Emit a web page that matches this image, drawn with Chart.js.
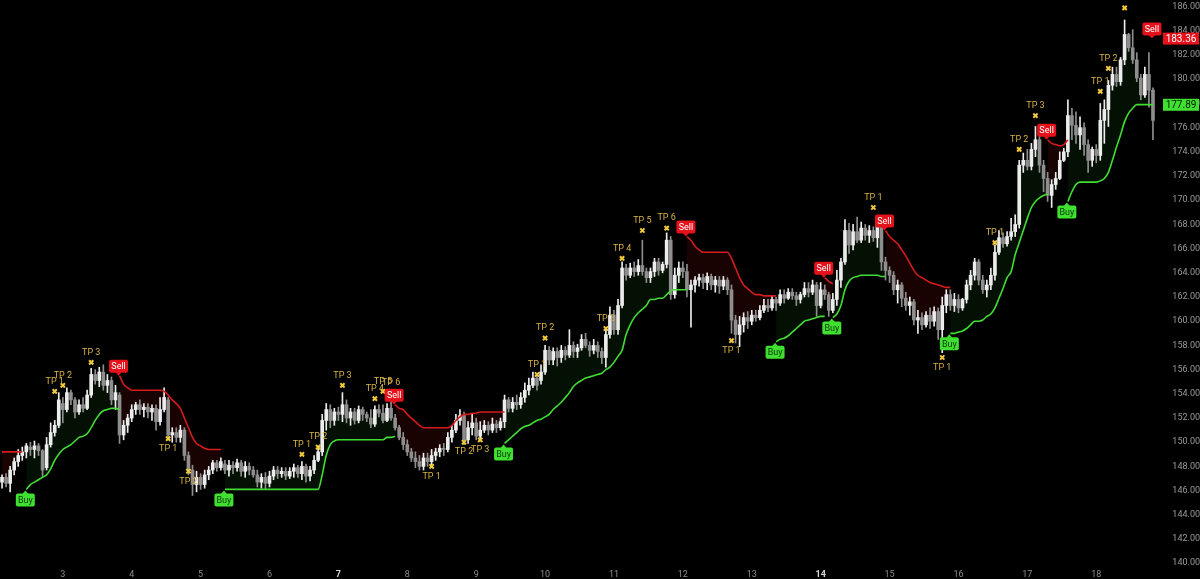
<!DOCTYPE html>
<html>
<head>
<meta charset="utf-8">
<script src="https://cdn.jsdelivr.net/npm/chart.js@4.4.1/dist/chart.umd.min.js"></script>
<style>
  html, body { margin: 0; padding: 0; background: #000; }
  #wrap { width: 1200px; height: 579px; }
</style>
</head>
<body>
<div id="wrap"><canvas id="priceChart"></canvas></div>
<script>
// OHLC per bar (285 bars, 17 bars per day)
const openPrices = [
  146.7,147.1,146.6,147.7,148.4,148.9,149.2,149.6,149.4,149.7,
  149.3,147.9,149.8,150.8,151.4,153.2,152.7,154.1,153.5,152.5,
  153.1,152.8,153.9,155.6,155.1,155.8,154.7,155.1,153.5,153.9,
  150.6,151.4,152.0,152.7,153.1,152.7,152.9,152.5,152.8,151.7,
  152.7,153.5,150.6,150.8,150.4,151.0,148.9,147.7,146.5,147.1,
  146.5,147.3,147.7,148.3,147.9,148.2,147.7,148.1,147.9,148.3,
  147.6,148.0,147.7,147.3,146.7,147.1,146.6,147.2,147.7,147.4,
  147.6,147.2,147.6,147.9,147.4,148.0,147.2,147.7,148.5,149.2,
  151.8,152.7,151.8,152.5,152.3,153.1,152.0,152.5,151.8,152.7,
  152.3,152.0,151.5,152.7,152.4,151.8,152.8,152.0,151.2,150.4,
  149.8,149.2,148.7,148.4,148.0,148.7,148.4,148.9,149.2,149.5,
  149.4,150.4,151.0,151.8,152.2,150.2,151.2,151.6,150.5,151.0,
  151.4,151.0,151.5,151.2,151.7,153.5,152.8,153.3,153.1,153.7,
  154.3,154.7,155.3,155.1,155.8,157.6,156.8,157.5,157.0,157.6,
  157.2,158.0,157.5,157.8,158.5,158.0,157.6,158.0,157.5,157.0,
  158.9,160.5,159.3,161.3,164.4,163.8,164.4,164.1,164.6,164.1,
  163.6,164.1,164.9,164.2,164.7,166.7,162.2,163.8,164.4,164.1,
  162.6,163.0,163.4,163.6,163.2,163.7,163.0,163.4,162.9,163.4,
  162.6,160.1,158.9,159.7,160.3,160.0,160.5,160.3,160.9,161.3,
  161.1,161.8,161.5,162.2,161.9,162.4,162.1,161.8,162.2,162.7,
  162.4,163.0,161.3,162.6,162.2,160.9,161.8,163.4,164.9,167.5,
  166.3,167.4,166.7,167.7,167.1,167.5,166.9,168.2,164.9,164.2,
  163.8,162.6,163.0,161.9,161.3,161.6,160.1,160.3,159.7,160.5,
  160.0,160.8,159.3,161.3,162.2,161.3,161.8,161.1,161.8,163.0,
  163.8,164.9,163.4,162.6,163.0,163.8,165.7,166.9,166.4,167.0,
  167.4,168.0,172.9,173.3,172.8,174.2,175.0,172.9,171.8,170.4,
  171.3,171.8,173.3,174.0,177.0,176.2,175.4,176.0,174.6,173.3,
  174.2,173.7,176.6,177.5,179.5,180.4,179.8,181.6,183.7,182.6,
  181.6,180.1,178.7,180.4,179.1
];
const highPrices = [
  147.3,147.4,148.0,148.7,149.4,149.6,149.9,150.0,150.1,149.9,
  149.4,150.4,151.6,151.8,154.1,153.7,154.5,154.3,153.7,153.5,
  153.7,154.3,156.1,156.0,156.2,156.4,155.6,155.4,154.7,154.1,
  151.8,152.3,153.1,153.3,153.5,153.2,153.2,153.1,153.1,153.7,
  154.5,153.7,151.2,151.2,151.4,151.2,149.2,148.1,147.6,147.4,
  147.7,148.0,148.5,148.5,148.7,148.5,148.5,148.4,148.6,148.5,
  148.4,148.3,148.0,147.7,147.4,147.5,147.6,148.0,148.0,147.9,
  147.9,147.9,148.2,148.1,148.4,148.2,148.0,148.9,149.5,152.3,
  153.2,153.1,152.8,152.9,154.1,153.5,152.8,152.8,153.0,152.9,
  152.5,152.7,153.0,153.1,153.1,153.2,153.5,152.3,151.4,150.8,
  150.2,149.5,149.2,148.9,149.1,149.1,149.4,149.5,149.8,149.9,
  150.8,151.4,152.3,152.7,152.5,151.7,152.3,152.0,151.7,151.8,
  151.7,152.0,151.8,152.0,153.9,153.7,153.7,153.9,154.1,154.9,
  155.3,155.8,155.6,156.4,158.0,157.9,157.8,157.8,158.0,157.9,
  159.3,158.3,158.1,158.9,159.0,158.3,158.5,158.3,157.8,159.3,
  161.2,160.9,161.8,164.9,164.7,164.8,164.9,165.1,166.7,164.4,
  164.4,165.2,165.2,164.9,167.3,167.0,164.4,164.9,164.9,164.7,
  163.4,163.7,163.9,163.9,164.0,163.9,163.7,163.7,163.7,163.6,
  163.0,160.5,160.4,160.7,160.8,160.9,160.9,161.3,161.8,161.8,
  162.1,162.0,162.6,162.6,162.7,162.7,162.4,162.4,163.2,163.2,
  163.4,163.2,163.2,163.0,162.4,162.3,164.2,165.2,168.4,168.1,
  168.0,168.6,168.2,168.0,167.9,167.8,168.6,168.4,165.3,164.5,
  164.1,163.4,163.2,162.4,162.0,161.8,160.9,160.7,160.8,161.1,
  161.2,161.1,162.0,162.6,162.6,162.3,162.2,161.9,163.4,164.2,
  165.2,165.1,163.8,163.4,164.4,166.3,167.5,167.3,167.4,168.5,
  168.8,173.3,173.9,174.2,174.7,176.1,175.4,173.3,172.3,171.7,
  172.3,174.0,174.3,178.3,177.6,177.3,176.9,176.4,175.0,174.4,
  174.6,178.0,178.3,179.9,181.0,181.0,181.8,184.9,183.8,184.1,
  182.2,180.4,181.0,182.2,179.3
];
const lowPrices = [
  146.2,146.3,145.9,147.3,148.0,148.5,148.7,148.9,148.7,148.9,
  147.1,147.7,149.6,150.5,151.2,151.6,152.5,153.1,152.0,152.3,
  152.5,152.7,153.7,154.8,154.6,154.3,154.1,153.1,152.7,149.9,
  150.2,150.8,151.7,152.3,152.3,152.1,152.0,151.8,151.0,151.4,
  152.5,150.2,150.0,150.0,150.0,148.5,147.3,145.6,145.9,146.1,
  146.2,146.9,147.4,147.6,147.7,147.4,147.2,147.4,147.6,147.2,
  147.1,147.3,147.1,146.3,146.2,146.1,146.3,146.9,147.0,147.1,
  146.9,147.0,147.1,147.1,146.9,146.7,146.8,147.4,148.4,148.9,
  151.0,151.2,151.4,151.8,151.7,151.6,151.4,151.5,151.6,151.8,
  151.7,151.2,151.3,152.1,151.6,151.7,151.8,151.0,150.2,149.4,
  148.9,148.4,147.9,147.7,147.7,148.0,148.0,148.5,148.8,148.9,
  149.2,150.0,150.8,151.4,149.8,149.9,150.6,150.2,150.2,150.8,
  150.6,150.8,150.8,151.0,151.2,152.5,152.5,152.7,152.8,153.3,
  153.9,154.5,154.3,154.8,155.6,156.4,156.4,156.3,156.6,156.8,
  157.0,157.0,157.0,157.6,157.8,157.1,157.3,157.0,156.5,156.2,
  158.6,158.9,158.9,161.1,163.4,163.6,163.7,163.8,163.8,163.2,
  163.2,163.7,163.8,164.0,164.4,161.8,161.9,163.2,163.6,162.0,
  159.5,162.4,162.9,162.7,162.6,162.6,162.4,162.3,162.6,162.2,
  159.0,158.2,157.9,159.1,159.4,159.7,160.0,160.1,160.7,160.8,
  160.9,160.9,161.3,161.5,161.8,161.8,161.3,161.5,162.0,162.0,
  162.2,160.4,161.1,161.8,160.4,160.7,161.3,162.8,164.7,165.6,
  165.9,166.5,166.5,166.7,166.5,166.6,166.1,164.2,163.4,163.2,
  162.2,161.5,161.2,160.9,160.5,159.7,159.0,159.3,159.5,159.4,
  159.6,158.5,157.4,160.7,160.9,160.8,160.7,160.9,161.5,162.6,
  163.4,163.0,162.3,162.0,162.6,163.4,165.5,166.1,166.2,166.7,
  167.0,167.7,172.3,172.5,172.5,173.6,172.3,170.7,169.9,169.4,
  170.9,171.7,173.2,173.6,175.0,174.7,174.2,173.7,172.3,172.8,
  173.1,173.3,174.7,176.1,179.1,179.4,179.5,181.2,182.3,181.3,
  179.8,178.3,178.5,177.7,175.0
];
const closePrices = [
  147.1,146.6,147.7,148.4,148.9,149.2,149.7,149.4,149.7,149.3,
  147.7,149.8,150.8,151.4,153.5,152.7,154.1,153.5,152.5,153.1,
  152.8,153.9,155.6,155.1,155.8,154.7,155.1,153.5,154.1,150.6,
  151.4,152.0,152.7,153.1,152.7,152.9,152.5,152.8,151.7,152.7,
  153.7,150.6,150.8,150.4,151.0,148.9,147.7,146.5,147.1,146.5,
  147.3,147.7,148.3,147.9,148.4,147.7,148.1,147.9,148.3,147.6,
  148.0,147.7,147.3,146.7,147.1,146.6,147.2,147.7,147.4,147.6,
  147.2,147.6,147.9,147.4,148.0,147.2,147.7,148.5,149.2,151.8,
  152.7,151.8,152.5,152.3,153.1,152.0,152.5,151.8,152.7,152.3,
  152.0,151.5,152.7,152.4,151.8,152.8,152.0,151.2,150.4,149.8,
  149.2,148.7,148.4,148.0,148.7,148.4,148.9,149.2,149.5,149.4,
  150.4,151.0,151.8,152.2,150.2,151.2,151.6,150.5,151.0,151.4,
  151.0,151.5,151.2,151.7,153.5,152.8,153.3,153.1,153.7,154.3,
  154.7,155.3,154.7,155.8,157.6,156.8,157.5,157.0,157.6,157.2,
  158.0,157.5,157.8,158.5,158.0,157.6,158.0,157.5,157.0,158.9,
  160.5,159.3,161.3,164.4,163.8,164.4,164.1,164.6,164.1,163.6,
  164.1,164.9,164.2,164.7,166.7,162.2,163.8,164.4,164.1,162.6,
  163.0,163.4,163.6,163.2,163.7,163.0,163.4,162.9,163.4,162.6,
  160.1,158.9,159.7,160.3,160.0,160.5,160.3,160.9,161.3,161.1,
  161.8,161.5,162.2,161.9,162.4,162.1,161.8,162.2,162.7,162.4,
  163.0,161.3,162.6,162.2,160.9,161.8,163.4,164.9,167.5,166.3,
  167.4,166.7,167.7,167.1,167.5,166.9,168.2,164.9,164.2,163.8,
  162.6,163.0,161.9,161.3,161.6,160.1,160.3,159.7,160.5,160.0,
  160.8,159.3,161.3,162.2,161.3,161.8,161.1,161.8,163.0,163.8,
  164.9,163.4,162.6,163.0,163.8,165.7,166.9,166.4,167.0,167.4,
  168.0,172.9,173.3,172.8,174.2,175.0,172.9,171.8,170.4,171.3,
  171.8,173.3,174.0,177.0,176.2,175.4,176.0,174.6,173.3,174.2,
  173.7,176.6,177.5,179.5,180.4,179.8,181.6,183.7,182.6,181.6,
  180.1,178.7,180.4,179.1,176.6
];

// day labels on the time axis (bar index where each day starts)
const dayStarts = [15,32,49,66,83,100,117,134,151,168,185,202,219,236,253,270];
const dayLabels = ['3','4','5','6','7','8','9','10','11','12','13','14','15','16','17','18'];
const boldDays = ['7','14'];
const yTicks = [140,142,144,146,148,150,152,154,156,158,160,162,164,166,168,170,172,174,176,178,180,182,184,186];

// trailing stop: [first bar, values...]
const longStopSegments = [
  [6, [146.1,146.5,146.7,146.9,147.1,147.3,147.8,148.5,149.0,149.4,149.6,149.8,150.1,150.4,150.5,150.7,151.2,151.8,152.3,152.6,152.7,152.8,152.8,152.7]],
  [55, [146.1,146.1,146.1,146.1,146.1,146.1,146.1,146.1,146.1,146.1,146.1,146.1,146.1,146.1,146.1,146.1,146.1,146.1,146.1,146.1,146.1,146.1,146.1,146.1,
        147.3,148.9,149.8,150.1,150.2,150.2,150.2,150.2,150.2,150.2,150.2,150.2,150.2,150.2,150.2,150.2,150.4,150.4,150.5]],
  [124, [149.9,150.2,150.5,150.8,151.1,151.3,151.4,151.6,151.8,151.9,152.1,152.3,152.7,153.0,153.3,153.7,154.1,154.6,154.9,155.1,155.3,155.4,155.5,
         155.6,155.7,156.0,156.2,156.6,157.1,157.6,158.9,159.7,160.3,160.7,161.0,161.3,161.8,161.8,161.9,161.9,162.2,162.5,162.6,162.6,162.6,162.6]],
  [191, [158.3,158.5,158.6,158.8,159.1,159.4,159.7,160.0,160.1,160.2,160.3,160.4,160.4]],
  [205, [160.3,160.6,161.3,162.6,163.3,163.6,163.7,163.8,163.8,163.8,163.8,163.8,163.7,163.7]],
  [234, [159.0,159.0,159.1,159.2,159.4,159.7,160.0,160.0,160.1,160.4,160.6,161.1,161.9,162.7,163.6,164.1,165.5,166.5,167.5,168.5,169.4,169.9,170.2,170.4,170.5]],
  [263, [169.9,170.7,171.3,171.5,171.5,171.5,171.5,171.5,171.6,171.8,172.3,173.3,174.4,175.4,176.5,177.2,177.6,177.9,177.9,177.9,177.9,177.89]]
];
const shortStopSegments = [
  [0, [149.2,149.2,149.2,149.2,149.2,149.2]],
  [29, [155.5,154.8,154.5,154.3,154.3,154.3,154.3,154.3,154.3,154.3,154.3,154.2,153.9,153.5,153.2,152.8,152.0,151.2,150.4,149.9,149.7,149.5,149.4,149.4,149.4,149.4]],
  [97, [153.1,152.8,152.7,152.3,152.0,151.7,151.4,151.2,151.2,151.2,151.2,151.2,151.2,151.2,151.4,151.8,152.1,152.3,152.3,152.4,152.4,152.5,152.5,152.5,152.5,152.5,152.5,152.5]],
  [169, [167.0,166.7,166.2,165.9,165.7,165.7,165.7,165.7,165.7,165.7,165.7,165.2,164.4,163.6,163.0,162.7,162.4,162.2,162.2,162.1,162.1,162.1,162.1]],
  [203, [163.6,163.3,163.1]],
  [218, [167.5,167.0,166.7,166.4,165.9,165.4,164.8,164.2,163.8,163.6,163.4,163.2,163.1,163.0,162.9,162.8,162.8]],
  [258, [175.0,174.7,174.6,174.5,174.6,175.0]],
  [284, [183.36]]
];

const buyBars = [6,55,124,191,205,234,263];
const sellBars = [29,97,169,203,218,258,284];

// take-profit hits
const tpBars   = [13,15,22,41,46,74,78,84,92,94,96,106,114,118,132,134,149,153,158,164,180,215,232,245,251,255,271,273,277];
const tpPrices = [154.2,154.7,156.6,150.3,147.6,149.0,149.6,154.7,153.6,154.2,154.1,148.0,150.0,150.2,155.6,158.6,159.4,165.2,167.5,167.7,158.4,169.4,157.0,166.5,174.2,177.0,179.0,180.9,185.9];
const tpNames  = ['TP 1','TP 2','TP 3','TP 1','TP 2','TP 1','TP 2','TP 3','TP 4','TP 5','TP 6','TP 1','TP 2','TP 3','TP 1','TP 2','TP 3','TP 4','TP 5','TP 6','TP 1','TP 1','TP 1','TP 1','TP 2','TP 3','TP 1','TP 2','TP 3'];
const tpSide   = ['L','L','L','S','S','L','L','L','L','L','L','S','S','S','L','L','L','L','L','L','S','L','S','L','L','L','L','L','L'];

const lastShortStop = 183.36;
const lastLongStop = 177.89;

const UP = '#ececec', DOWN = '#8e8e8e';
const GREEN = '#42dd34', RED = '#d41c1c';
const FONT = 'Roboto, "Liberation Sans", sans-serif';

const n = closePrices.length;
const xLabels = new Array(n).fill('');
dayStarts.forEach((b, k) => { xLabels[b] = dayLabels[k]; });

function fromSegments(segs) {
  const arr = new Array(n).fill(null);
  segs.forEach(([start, vals]) => vals.forEach((v, k) => { arr[start + k] = v; }));
  return arr;
}
const longStop = fromSegments(longStopSegments);
const shortStop = fromSegments(shortStopSegments);

const tpData = new Array(n).fill(null);
tpBars.forEach((b, k) => { tpData[b] = tpPrices[k]; });

const candleColor = closePrices.map((c, i) => c >= openPrices[i] ? UP : DOWN);

function roundRect(ctx, x, y, w, h, r) {
  ctx.beginPath();
  ctx.moveTo(x + r, y);
  ctx.lineTo(x + w - r, y);
  ctx.quadraticCurveTo(x + w, y, x + w, y + r);
  ctx.lineTo(x + w, y + h - r);
  ctx.quadraticCurveTo(x + w, y + h, x + w - r, y + h);
  ctx.lineTo(x + r, y + h);
  ctx.quadraticCurveTo(x, y + h, x, y + h - r);
  ctx.lineTo(x, y + r);
  ctx.quadraticCurveTo(x, y, x + r, y);
  ctx.closePath();
}

// Buy / Sell flags, TP texts, right side price tags
const overlayPlugin = {
  id: 'overlay',
  afterDatasetsDraw(chart) {
    const ctx = chart.ctx, xs = chart.scales.x, ys = chart.scales.y;
    ctx.save();
    ctx.textAlign = 'center';
    ctx.textBaseline = 'middle';

    ctx.font = '9px ' + FONT;
    ctx.fillStyle = '#d9b344';
    tpBars.forEach((b, k) => {
      const px = xs.getPixelForValue(b);
      const py = ys.getPixelForValue(tpPrices[k]) + (tpSide[k] === 'L' ? -10 : 10);
      ctx.fillText(tpNames[k], px, py);
    });

    const w = 19, h = 13;
    ctx.font = '9px ' + FONT;
    buyBars.forEach(b => {
      const px = xs.getPixelForValue(b) - 1;
      const ly = ys.getPixelForValue(longStop[b]);
      const top = ly + 4;
      ctx.fillStyle = '#3fe02f';
      roundRect(ctx, px - w / 2, top, w, h, 2);
      ctx.fill();
      ctx.beginPath();
      ctx.moveTo(px - 3, top + 0.5); ctx.lineTo(px, top - 3); ctx.lineTo(px + 3, top + 0.5);
      ctx.fill();
      ctx.fillStyle = '#0c330c';
      ctx.fillText('Buy', px, top + h / 2 + 0.5);
    });
    sellBars.forEach(b => {
      const px = xs.getPixelForValue(b) - 1;
      const sv = shortStop[b] != null ? shortStop[b] : lastShortStop;
      const ly = ys.getPixelForValue(sv);
      const top = ly - 3 - h;
      ctx.fillStyle = '#e5121b';
      roundRect(ctx, px - w / 2, top, w, h, 2);
      ctx.fill();
      ctx.beginPath();
      ctx.moveTo(px - 3, top + h - 0.5); ctx.lineTo(px, top + h + 3); ctx.lineTo(px + 3, top + h - 0.5);
      ctx.fill();
      ctx.fillStyle = '#ffffff';
      ctx.fillText('Sell', px, top + h / 2 + 0.5);
    });
    ctx.restore();
  },
  afterDraw(chart) {
    const ctx = chart.ctx, ys = chart.scales.y;
    const x0 = chart.chartArea.right + 8;
    ctx.save();
    ctx.font = '10px ' + FONT;
    ctx.textAlign = 'center';
    ctx.textBaseline = 'middle';
    [[lastShortStop, '#e5121b', '#ffffff'], [lastLongStop, '#3fe02f', '#061a06']].forEach(([v, bg, fg]) => {
      const py = ys.getPixelForValue(v);
      ctx.fillStyle = bg;
      ctx.fillRect(x0, py - 6, 36, 12);
      ctx.fillStyle = fg;
      ctx.fillText(v.toFixed(2), x0 + 18, py + 0.5);
    });
    ctx.restore();
  }
};

new Chart(document.getElementById('priceChart'), {
  type: 'bar',
  data: {
    labels: xLabels,
    datasets: [
      {
        type: 'line', label: 'close', data: closePrices,
        borderColor: 'rgba(0,0,0,0)', borderWidth: 0, pointRadius: 0, fill: false, order: 9
      },
      {
        type: 'line', label: 'long stop', data: longStop,
        borderColor: GREEN, borderWidth: 1.6, pointRadius: 0, spanGaps: false,
        cubicInterpolationMode: 'monotone',
        fill: { target: 0, above: 'rgba(50,200,50,0.08)', below: 'rgba(50,200,50,0.08)' },
        order: 0.5
      },
      {
        type: 'line', label: 'short stop', data: shortStop,
        borderColor: RED, borderWidth: 1.6, pointRadius: 0, spanGaps: false,
        cubicInterpolationMode: 'monotone',
        fill: { target: 0, above: 'rgba(200,20,20,0.12)', below: 'rgba(200,20,20,0.12)' },
        order: 0.5
      },
      {
        label: 'wicks', data: lowPrices.map((l, i) => [l, highPrices[i]]),
        backgroundColor: candleColor, barThickness: 1, grouped: false, order: 2
      },
      {
        label: 'bodies', data: openPrices.map((o, i) => [o, closePrices[i]]),
        backgroundColor: candleColor, barThickness: 3, minBarLength: 1, grouped: false, order: 1
      },
      {
        type: 'line', label: 'tp', data: tpData, showLine: false,
        pointStyle: 'crossRot', pointRadius: 3, pointBorderWidth: 2,
        pointBorderColor: '#f3ca3c', pointBackgroundColor: '#f3ca3c', order: 0
      }
    ]
  },
  options: {
    responsive: true,
    maintainAspectRatio: false,
    animation: false,
    layout: { padding: 0, autoPadding: false },
    plugins: {
      legend: { display: false },
      tooltip: { enabled: false },
      filler: { drawTime: 'beforeDatasetsDraw' }
    },
    scales: {
      x: {
        offset: true,
        grid: { display: false, drawTicks: false },
        border: { display: false },
        ticks: {
          autoSkip: false, maxRotation: 0, padding: 3,
          color: ctx => boldDays.includes(xLabels[ctx.index]) ? '#d6d6d6' : '#8d8d8d',
          font: ctx => ({ family: FONT, size: 9, weight: boldDays.includes(xLabels[ctx.index]) ? 'bold' : 'normal' })
        },
        afterFit: scale => { scale.height = 13; scale.paddingLeft = 0; scale.paddingRight = 0; }
      },
      y: {
        position: 'right',
        min: 139.77,
        max: 186.55,
        grid: { display: false, drawTicks: false },
        border: { display: false },
        afterBuildTicks: scale => { scale.ticks = yTicks.map(v => ({ value: v })); },
        afterFit: scale => { scale.width = 45; scale.paddingTop = 0; scale.paddingBottom = 0; },
        ticks: {
          crossAlign: 'far', padding: 4,
          color: '#9a9a9a',
          font: { family: FONT, size: 9 },
          callback: v => Number(v).toFixed(2)
        }
      }
    }
  },
  plugins: [overlayPlugin]
});
</script>
</body>
</html>
